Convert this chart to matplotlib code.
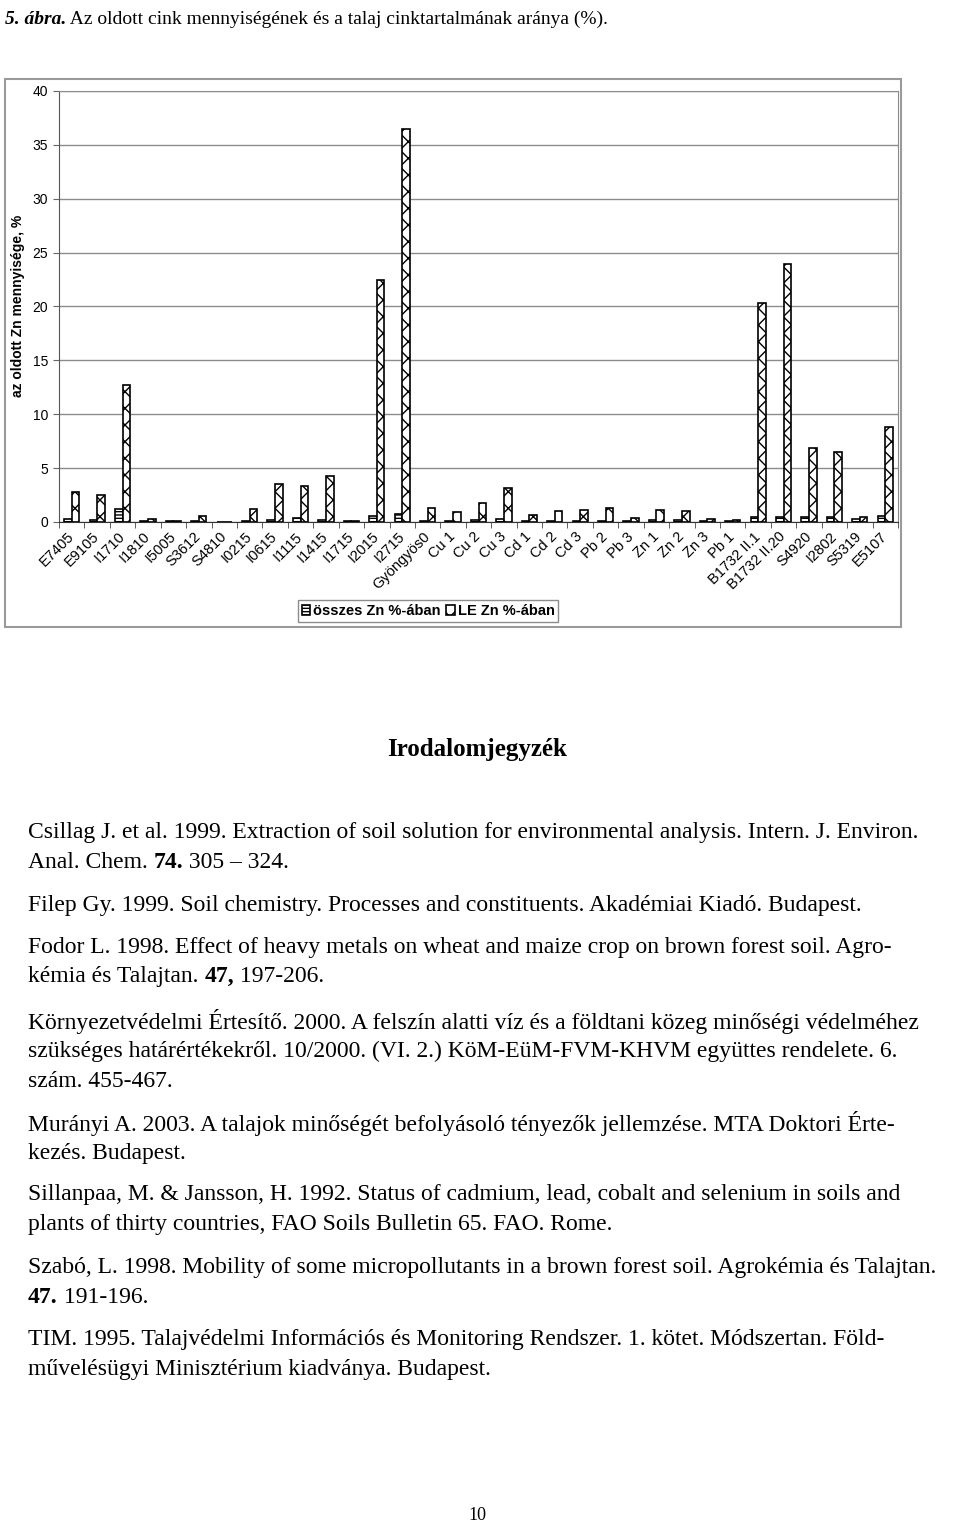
import numpy as np
import matplotlib.pyplot as plt
from matplotlib.patches import Rectangle

categories = ["E7405", "E9105", "I1710", "I1810", "I5005", "S3612", "S4810", "I0215",
              "I0615", "I1115", "I1415", "I1715", "I2015", "I2715", "Gyöngyös0", "Cu 1",
              "Cu 2", "Cu 3", "Cd 1", "Cd 2", "Cd 3", "Pb 2", "Pb 3", "Zn 1", "Zn 2",
              "Zn 3", "Pb 1", "B1732 II.1", "B1732 II.20", "S4920", "I2802", "S5319", "E5107"]
total_zn = [0.28, 0.15, 1.2, 0.05, 0.05, 0.1, 0.02, 0.05, 0.2, 0.37, 0.15, 0.05, 0.6, 0.77,
            0.05, 0.1, 0.2, 0.3, 0.1, 0.12, 0.1, 0.1, 0.05, 0.15, 0.2, 0.1, 0.05, 0.43,
            0.43, 0.5, 0.43, 0.25, 0.6]
le_zn = [2.75, 2.55, 12.7, 0.25, 0.1, 0.55, 0.03, 1.18, 3.5, 3.34, 4.24, 0.1, 22.5, 36.5,
         1.33, 0.9, 1.76, 3.19, 0.62, 1.0, 1.15, 1.33, 0.37, 1.08, 1.05, 0.31, 0.19, 20.3,
         23.9, 6.84, 6.47, 0.5, 8.79]
yticks = [0, 5, 10, 15, 20, 25, 30, 35, 40]
series_names = ["összes Zn %-ában", "LE Zn %-ában"]

caption_bold = "5. ábra."
caption_text = " Az oldott cink mennyiségének és a talaj cinktartalmának aránya (%)."
heading = "Irodalomjegyzék"
# each line: (y centre in px, list of (text, bold))
ref_lines = [
    (830, [("Csillag J. et al. 1999. Extraction of soil solution for environmental analysis. Intern. J. Environ.", False)]),
    (860, [("Anal. Chem. ", False), ("74.", True), (" 305 – 324.", False)]),
    (903, [("Filep Gy. 1999. Soil chemistry. Processes and constituents. Akadémiai Kiadó. Budapest.", False)]),
    (945, [("Fodor L. 1998. Effect of heavy metals on wheat and maize crop on brown forest soil. Agro-", False)]),
    (974, [("kémia és Talajtan. ", False), ("47,", True), (" 197-206.", False)]),
    (1019, [("Környezetvédelmi Értesítő. 2000. A felszín alatti víz és a földtani közeg minőségi védelméhez", False)]),
    (1049, [("szükséges határértékekről. 10/2000. (VI. 2.) KöM-EüM-FVM-KHVM együttes rendelete. 6.", False)]),
    (1079, [("szám. 455-467.", False)]),
    (1121, [("Murányi A. 2003. A talajok minőségét befolyásoló tényezők jellemzése. MTA Doktori Érte-", False)]),
    (1151, [("kezés. Budapest.", False)]),
    (1192, [("Sillanpaa, M. & Jansson, H. 1992. Status of cadmium, lead, cobalt and selenium in soils and", False)]),
    (1222, [("plants of thirty countries, FAO Soils Bulletin 65. FAO. Rome.", False)]),
    (1265, [("Szabó, L. 1998. Mobility of some micropollutants in a brown forest soil. Agrokémia és Talajtan.", False)]),
    (1295, [("47.", True), (" 191-196.", False)]),
    (1337, [("TIM. 1995. Talajvédelmi Információs és Monitoring Rendszer. 1. kötet. Módszertan. Föld-", False)]),
    (1367, [("művelésügyi Minisztérium kiadványa. Budapest.", False)]),
]
page_no = "10"

W, H = 960, 1525


def fx(px):
    return px / W


def fy(py):
    return 1 - py / H


fig = plt.figure(figsize=(9.6, 15.25), dpi=100)
sans = "Liberation Sans"
serif = "Liberation Serif"

# chart frame
fig.add_artist(Rectangle((fx(5), fy(627)), fx(901) - fx(5), fy(79) - fy(627),
                         transform=fig.transFigure, fill=False, edgecolor="#9a9a9a", lw=1.5))

ax = fig.add_axes([fx(59), fy(522), fx(898) - fx(59), fy(91) - fy(522)])
x = np.arange(len(categories))
w = 0.3
ax.bar(x - w / 2, total_zn, w, facecolor="white", edgecolor="black", hatch="-----",
       lw=1.2, label=series_names[0], zorder=3)
ax.bar(x + w / 2, le_zn, w, facecolor="white", edgecolor="black", hatch="xx",
       lw=1.2, label=series_names[1], zorder=3)

ax.set_xlim(-0.5, len(categories) - 0.5)
ax.set_ylim(0, 40)
ax.set_yticks(yticks)
ax.yaxis.grid(True, color="#8c8c8c", lw=1)
ax.set_axisbelow(True)
ax.set_xticks(x)
ax.set_xticklabels(categories, rotation=45, ha="right", va="center",
                   rotation_mode="anchor", fontsize=10.5, family=sans)
ax.set_xticks(np.arange(-0.5, len(categories)), minor=True)
ax.tick_params(axis="x", which="major", length=0, pad=9)
ax.tick_params(axis="x", which="minor", length=4, color="#444444")
ax.tick_params(axis="y", length=4, color="#666666", pad=4, labelsize=10)
for lab in ax.get_yticklabels():
    lab.set_family(sans)
for s in ["top", "right"]:
    ax.spines[s].set_color("#8c8c8c")
ax.spines["left"].set_color("#555555")
ax.spines["bottom"].set_color("#333333")

fig.text(fx(18), fy(306), "az oldott Zn mennyisége, %", rotation=90, ha="center",
         va="center", fontsize=10, fontweight="bold", family=sans)

fig.legend(loc="center", bbox_to_anchor=(fx(428), fy(611)), ncol=2,
           prop={"family": sans, "weight": "bold", "size": 10.5},
           frameon=True, fancybox=False, edgecolor="#8c8c8c", framealpha=1,
           handlelength=0.6, handleheight=0.65, handletextpad=0.2,
           columnspacing=0.35, borderpad=0.25, borderaxespad=0)

renderer = fig.canvas.get_renderer()
body_size = 17.0


def rich_line(x_px, y_px, parts, size, style="normal"):
    xpos = fx(x_px)
    for s, bold in parts:
        t = fig.text(xpos, fy(y_px), s, fontsize=size, family=serif,
                     fontweight="bold" if bold else "normal",
                     fontstyle=style if bold else "normal", va="center_baseline")
        xpos += t.get_window_extent(renderer).width / W


rich_line(5, 17, [(caption_bold, True), (caption_text, False)], 14, style="italic")
fig.text(fx(477), fy(747), heading, ha="center", va="center_baseline",
         fontsize=18, fontweight="bold", family=serif)
for y_px, parts in ref_lines:
    rich_line(28, y_px, parts, body_size)
fig.text(fx(477), fy(1514), page_no, ha="center", va="center_baseline",
         fontsize=13, family=serif)

fig.savefig("out.png", dpi=100)
